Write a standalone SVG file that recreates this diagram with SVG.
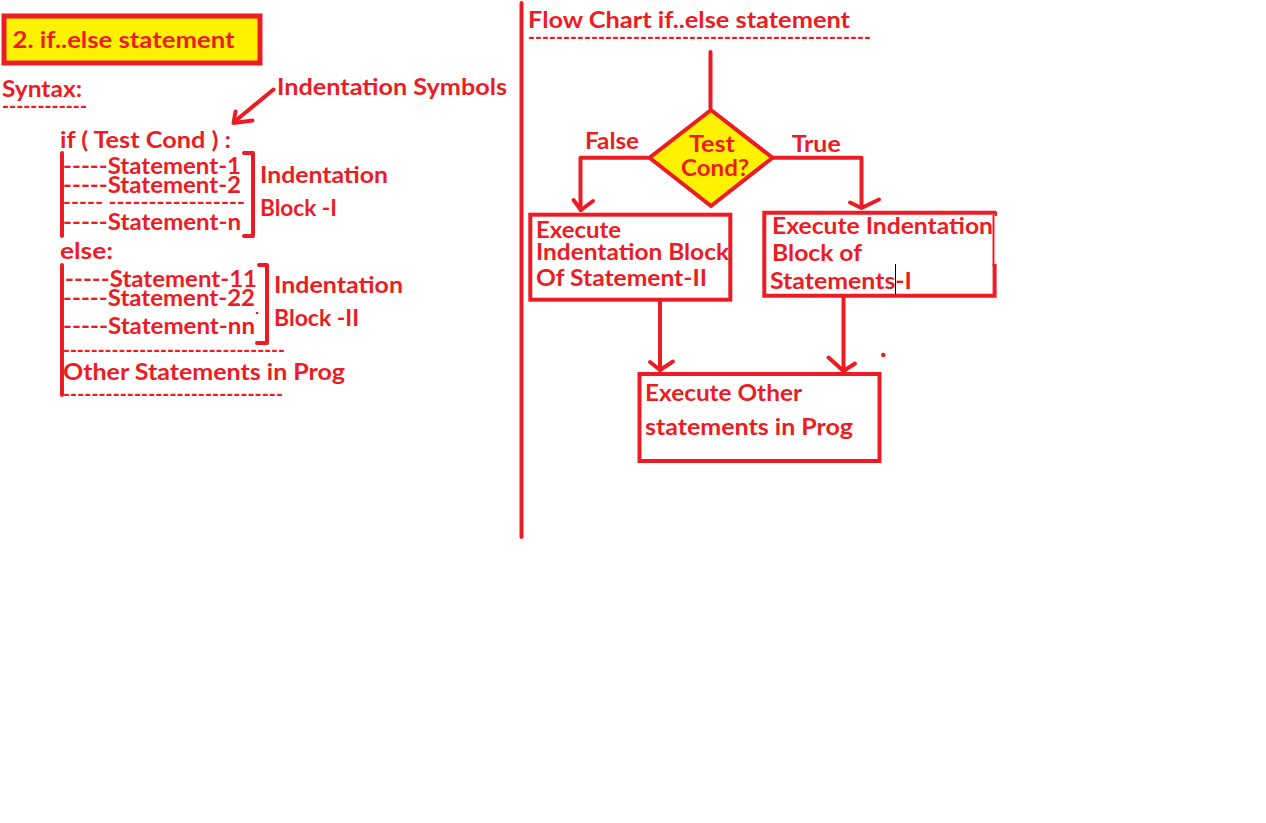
<svg xmlns="http://www.w3.org/2000/svg" width="1266" height="823" viewBox="0 0 1266 823">
<style>
text{font-family:Lato,"Open Sans","Liberation Sans",sans-serif;font-weight:bold;font-size:22px;fill:#ED1C24}
.t{font-size:23px}
.d{font-size:20px}
.ln{stroke:#ED1C24;stroke-width:4;fill:none;stroke-linecap:round;stroke-linejoin:round}
.box{stroke:#ED1C24;stroke-width:4;fill:#fff}
</style>
<rect width="1266" height="823" fill="#fff"/>
<g id="title">
<rect x="4" y="16" width="256" height="47" fill="#FFF200" stroke="#ED1C24" stroke-width="5"/>
<text class="t" x="12.5" y="48" textLength="222" lengthAdjust="spacingAndGlyphs">2. if..else statement</text>
</g>
<g id="syntax">
<text class="t" x="2" y="97" textLength="80" lengthAdjust="spacingAndGlyphs">Syntax:</text>
<text class="d" x="2" y="113" textLength="85" lengthAdjust="spacingAndGlyphs">------------</text>
</g>
<g id="indent-symbols">
<text x="277" y="94.5" textLength="230" lengthAdjust="spacingAndGlyphs">Indentation Symbols</text>
<polyline class="ln" points="273.5,89.5 234,122"/>
<polyline class="ln" points="235.5,111.5 233.5,123 252.5,120.5"/>
</g>
<g id="code">
<text x="60" y="147.5" textLength="171" lengthAdjust="spacingAndGlyphs">if ( Test Cond ) :</text>
<text x="63" y="174" textLength="178" lengthAdjust="spacingAndGlyphs">-----Statement-1</text>
<text x="63" y="193" textLength="178" lengthAdjust="spacingAndGlyphs">-----Statement-2</text>
<text class="d" x="63" y="209" textLength="182" lengthAdjust="spacingAndGlyphs">----- -----------------</text>
<text x="63" y="230" textLength="178" lengthAdjust="spacingAndGlyphs">-----Statement-n</text>
<text x="60" y="258.5" textLength="53" lengthAdjust="spacingAndGlyphs">else:</text>
<text x="65" y="286.5" textLength="192" lengthAdjust="spacingAndGlyphs">-----Statement-11</text>
<text x="63" y="305.5" textLength="192" lengthAdjust="spacingAndGlyphs">-----Statement-22</text>
<text x="63" y="333.5" textLength="192" lengthAdjust="spacingAndGlyphs">-----Statement-nn</text>
<text class="d" x="63" y="356.5" textLength="222" lengthAdjust="spacingAndGlyphs">--------------------------------</text>
<text x="63" y="379.5" textLength="282" lengthAdjust="spacingAndGlyphs">Other Statements in Prog</text>
<text class="d" x="63" y="400.5" textLength="220" lengthAdjust="spacingAndGlyphs">-------------------------------</text>
<line class="ln" x1="62" y1="153" x2="62" y2="236"/>
<line class="ln" x1="62" y1="265" x2="62" y2="395"/>
<circle cx="257" cy="313" r="1.3" fill="#ED1C24"/>
</g>
<g id="block-1">
<polyline class="ln" points="244,153 253,153 253,236 244,236"/>
<text x="260" y="183" textLength="128" lengthAdjust="spacingAndGlyphs">Indentation</text>
<text x="260" y="215.5" textLength="77" lengthAdjust="spacingAndGlyphs">Block -I</text>
</g>
<g id="block-2">
<polyline class="ln" points="259,265 267,265 267,343 257,343"/>
<text x="274" y="293" textLength="129" lengthAdjust="spacingAndGlyphs">Indentation</text>
<text x="274" y="325.5" textLength="85" lengthAdjust="spacingAndGlyphs">Block -II</text>
</g>
<g id="divider">
<line class="ln" x1="521.5" y1="3" x2="521.5" y2="537"/>
</g>
<g id="flow-title">
<text x="528" y="28" textLength="322" lengthAdjust="spacingAndGlyphs">Flow Chart if..else statement</text>
<text class="d" x="528" y="44" textLength="343" lengthAdjust="spacingAndGlyphs">-------------------------------------------------</text>
</g>
<g id="connectors">
<line class="ln" x1="710.5" y1="52" x2="710.5" y2="108"/>
<polyline class="ln" points="649,157.7 580.5,157.7 580.5,210"/>
<polyline class="ln" points="573.5,200 581,210 593,201"/>
<polyline class="ln" points="773,157.7 861.5,157.7 861.5,207"/>
<polyline class="ln" points="850,202.5 861.5,208 879,199.5"/>
<line class="ln" x1="660" y1="301" x2="660" y2="370"/>
<polyline class="ln" points="650,362 660,370 673,361.5"/>
<line class="ln" x1="843.5" y1="298" x2="843.5" y2="371"/>
<polyline class="ln" points="828.5,357.5 843.5,371 855,363.5"/>
<text x="585" y="148.5" textLength="54" lengthAdjust="spacingAndGlyphs">False</text>
<text x="791.7" y="152" textLength="49" lengthAdjust="spacingAndGlyphs">True</text>
</g>
<g id="decision">
<polygon points="711,110 772.5,157.7 711,206 649.5,157.7" fill="#FFF200" stroke="#ED1C24" stroke-width="4"/>
<text x="689" y="151.5" textLength="46" lengthAdjust="spacingAndGlyphs">Test</text>
<text x="681" y="176" textLength="68" lengthAdjust="spacingAndGlyphs">Cond?</text>
</g>
<g id="else-block">
<rect class="box" x="530.3" y="214.7" width="200" height="85"/>
<text x="536" y="237.5" textLength="85" lengthAdjust="spacingAndGlyphs">Execute</text>
<text x="536" y="259.5" textLength="193" lengthAdjust="spacingAndGlyphs">Indentation Block</text>
<text x="536" y="285.5" textLength="171" lengthAdjust="spacingAndGlyphs">Of Statement-II</text>
</g>
<g id="if-block">
<rect x="764.3" y="212.7" width="230.3" height="83" fill="#fff"/>
<polyline class="ln" style="stroke-linecap:butt;stroke-linejoin:miter" points="996.5,212.7 764.3,212.7 764.3,295.7 994.6,295.7 994.6,264"/>
<line x1="996" y1="212" x2="996" y2="216" stroke="#ED1C24" stroke-width="2"/>
<line x1="993.5" y1="215" x2="993.5" y2="266" stroke="#ED1C24" stroke-width="2"/>
<text x="772" y="233.5" textLength="221" lengthAdjust="spacingAndGlyphs">Execute Indentation</text>
<text x="772" y="261" textLength="90" lengthAdjust="spacingAndGlyphs">Block of</text>
<text x="770" y="288.5" textLength="142" lengthAdjust="spacingAndGlyphs">Statements-I</text>
<line x1="895.5" y1="264" x2="895.5" y2="294" stroke="#000" stroke-width="1"/>
</g>
<g id="other-block">
<rect class="box" x="639.5" y="374" width="240" height="87"/>
<text x="645" y="401" textLength="157" lengthAdjust="spacingAndGlyphs">Execute Other</text>
<text x="645" y="434.5" textLength="208" lengthAdjust="spacingAndGlyphs">statements in Prog</text>
</g>
<circle cx="883.3" cy="355" r="2.3" fill="#ED1C24"/>
</svg>
